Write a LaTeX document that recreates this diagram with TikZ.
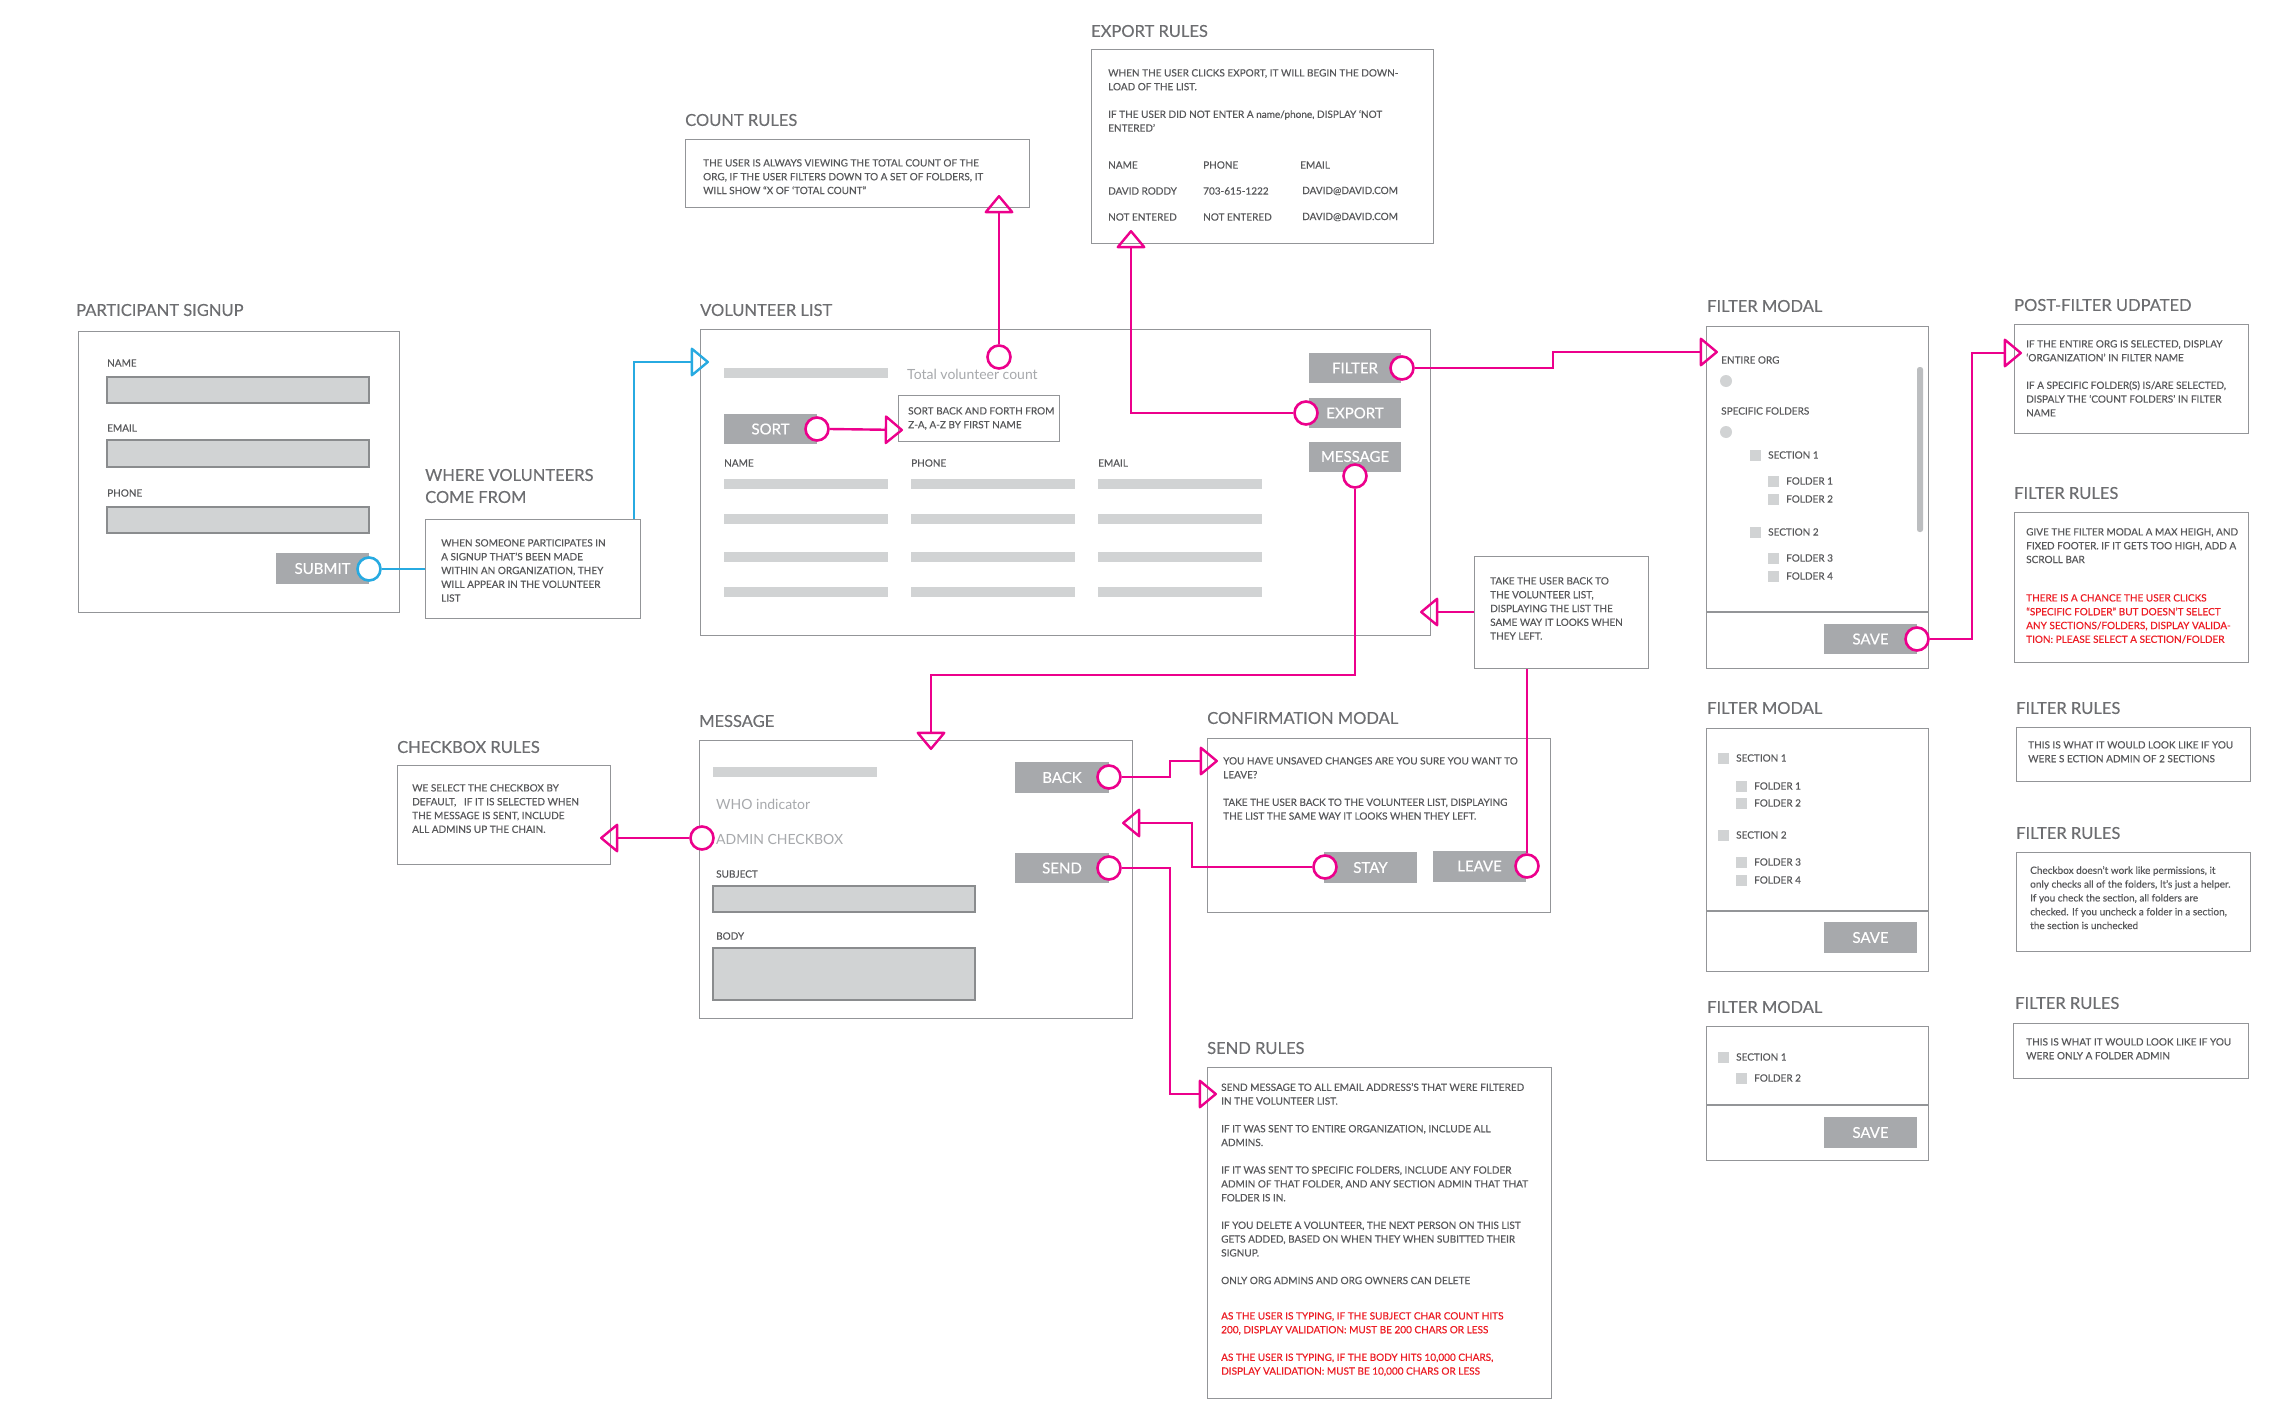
\documentclass[tikz,border=0pt]{standalone}
\usepackage{fontspec}
\setmainfont{Lato}
\newfontfamily\medfont[FakeBold=0.35,Ligatures=TeX]{Lato}
\newfontfamily\headfont[FakeBold=0.25,Ligatures=TeX]{Lato}
\usetikzlibrary{arrows.meta}
\definecolor{pinkc}{HTML}{EC008C}
\definecolor{bluec}{HTML}{27AAE1}
\definecolor{framegray}{HTML}{939598}
\definecolor{btngray}{HTML}{A7A9AC}
\definecolor{fieldfill}{HTML}{D1D3D4}
\definecolor{fieldedge}{HTML}{8A8C8E}
\definecolor{textc}{HTML}{58595B}
\definecolor{headc}{HTML}{6D6E71}
\definecolor{softc}{HTML}{A7A9AC}
\definecolor{redc}{HTML}{ED1C24}
\definecolor{scrollc}{HTML}{BCBEC0}
\tikzset{
  boxf/.style={draw=framegray, line width=1.4pt, fill=white, inner sep=0pt, anchor=north west},
  fieldf/.style={draw=fieldedge, fill=fieldfill, line width=1.2pt},
  barf/.style={fill=fieldfill},
  btnf/.style={fill=btngray, text=white, inner sep=0pt, minimum width=93pt, minimum height=31pt, font=\medfont\fontsize{15}{15}\selectfont},
  headf/.style={text=headc, inner sep=0pt, anchor=west, align=left, font=\headfont\fontsize{16.5}{22}\selectfont},
  txtf/.style={text=textc, inner sep=0pt, anchor=north west, align=left, font=\medfont\fontsize{10}{13.8}\selectfont},
  redf/.style={txtf, text=redc},
  lblf/.style={text=textc, inner sep=0pt, anchor=west, font=\medfont\fontsize{10}{12}\selectfont},
  softf/.style={text=softc, inner sep=0pt, anchor=west, font=\fontsize{14}{16}\selectfont},
  pcirc/.style={circle, draw=pinkc, line width=2.6pt, fill=white, minimum size=23pt, inner sep=0pt},
  bcirc/.style={pcirc, draw=bluec},
  pline/.style={draw=pinkc, line width=2.4pt},
  bline/.style={draw=bluec, line width=2.4pt},
  arr/.style={-{Triangle[open,length=19pt,width=31pt,round]}},
  chk/.style={fill=fieldfill},
}
\begin{document}
\begin{tikzpicture}[x=1pt,y=-1pt]
\useasboundingbox[fill=white] (0,0) rectangle (2294,1426);

% ---------------- PARTICIPANT SIGNUP
\node[headf] at (76,310) {PARTICIPANT SIGNUP};
\node[boxf, minimum width=321pt, minimum height=281pt] (ps) at (78,331) {};
\node[lblf] at (107,363) {NAME};
\draw[fieldf] (107,377) rectangle (369,403);
\node[lblf] at (107,428) {EMAIL};
\draw[fieldf] (107,440) rectangle (369,467);
\node[lblf] at (107,493) {PHONE};
\draw[fieldf] (107,507) rectangle (369,533);
\node[btnf] (submit) at (322.5,568.5) {SUBMIT};
\node[bcirc] (sub) at (369,569) {};

% ---------------- WHERE VOLUNTEERS COME FROM
\node[headf] at (425,486) {WHERE VOLUNTEERS\\COME FROM};
\node[boxf, minimum width=215pt, minimum height=99pt] (where) at (425,519) {};
\node[txtf] at (441,539) {WHEN SOMEONE PARTICIPATES IN\\A SIGNUP THAT'S BEEN MADE\\WITHIN AN ORGANIZATION, THEY\\WILL APPEAR IN THE VOLUNTEER\\LIST};
\coordinate (wtop) at (634,519);

% ---------------- COUNT RULES
\node[headf] at (685,120) {COUNT RULES};
\node[boxf, minimum width=344pt, minimum height=68pt] (count) at (685,139) {};
\node[txtf] at (703,159) {THE USER IS ALWAYS VIEWING THE TOTAL COUNT OF THE\\ORG, IF THE USER FILTERS DOWN TO A SET OF FOLDERS, IT\\WILL SHOW ``X OF `TOTAL COUNT''};

% ---------------- EXPORT RULES
\node[headf] at (1091,31) {EXPORT RULES};
\node[boxf, minimum width=342pt, minimum height=194pt] (export) at (1091,49) {};
\node[txtf] at (1108,69) {WHEN THE USER CLICKS EXPORT, IT WILL BEGIN THE DOWN-\\LOAD OF THE LIST.\\[13.8pt]IF THE USER DID NOT ENTER A name/phone, DISPLAY `NOT\\ENTERED'};
\node[lblf] at (1108,165) {NAME};
\node[lblf] at (1203,165) {PHONE};
\node[lblf] at (1300,165) {EMAIL};
\node[lblf] at (1108,191) {DAVID RODDY};
\node[lblf] at (1203,191) {703-615-1222};
\node[lblf] at (1302,191) {DAVID@DAVID.COM};
\node[lblf] at (1108,217) {NOT ENTERED};
\node[lblf] at (1203,217) {NOT ENTERED};
\node[lblf] at (1302,217) {DAVID@DAVID.COM};

% ---------------- VOLUNTEER LIST
\node[headf] at (700,310) {VOLUNTEER LIST};
\node[boxf, minimum width=730pt, minimum height=306pt] (vlist) at (700,329) {};
\fill[barf] (724,368) rectangle (888,378);
\node[softf] (total) at (907,374) {Total volunteer count};
\node[btnf, minimum height=30pt] (sort) at (770.5,429) {SORT};
\node[boxf, minimum width=161pt, minimum height=46pt] (sortbox) at (898,395) {};
\node[txtf] at (908,407) {SORT BACK AND FORTH FROM\\Z-A, A-Z BY FIRST NAME};
\node[lblf] at (724,463) {NAME};
\node[lblf] at (911,463) {PHONE};
\node[lblf] at (1098,463) {EMAIL};
\foreach \yy in {484,519,557,592}{
  \fill[barf] (724,\yy-5) rectangle (888,\yy+5);
  \fill[barf] (911,\yy-5) rectangle (1075,\yy+5);
  \fill[barf] (1098,\yy-5) rectangle (1262,\yy+5);
}
\node[btnf, minimum width=92pt, minimum height=30pt] (filterbtn) at (1355,368) {FILTER};
\node[btnf, minimum width=92pt, minimum height=30pt] (exportbtn) at (1355,413) {EXPORT};
\node[btnf, minimum width=92pt, minimum height=30pt] (msgbtn) at (1355,456.5) {MESSAGE};

% ---------------- FILTER MODAL 1
\node[headf] at (1707,306) {FILTER MODAL};
\node[boxf, minimum width=222pt, minimum height=342pt] (fm1) at (1706,326) {};
\node[lblf] at (1721,360) {ENTIRE ORG};
\fill[fieldfill] (1726,381) circle (6);
\node[lblf] at (1721,411) {SPECIFIC FOLDERS};
\fill[fieldfill] (1726,432) circle (6);
\fill[chk] (1750,449.5) rectangle (1761,460.5);
\node[lblf] at (1768,455) {SECTION 1};
\fill[chk] (1768,475.5) rectangle (1779,486.5);
\node[lblf] at (1786,481) {FOLDER 1};
\fill[chk] (1768,493.5) rectangle (1779,504.5);
\node[lblf] at (1786,499) {FOLDER 2};
\fill[chk] (1750,526.5) rectangle (1761,537.5);
\node[lblf] at (1768,532) {SECTION 2};
\fill[chk] (1768,552.5) rectangle (1779,563.5);
\node[lblf] at (1786,558) {FOLDER 3};
\fill[chk] (1768,570.5) rectangle (1779,581.5);
\node[lblf] at (1786,576) {FOLDER 4};
\fill[scrollc, rounded corners=2.5pt] (1917,367) rectangle (1923,532);
\draw[draw=framegray, line width=1.2pt] (1706,612) -- (1928,612);
\node[btnf, minimum height=30pt] (save1) at (1870.5,639) {SAVE};

% ---------------- POST-FILTER / FILTER RULES
\node[headf] at (2014,305) {POST-FILTER UDPATED};
\node[boxf, minimum width=234pt, minimum height=109pt] (post) at (2014,324) {};
\node[txtf] at (2026,340) {IF THE ENTIRE ORG IS SELECTED, DISPLAY\\`ORGANIZATION' IN FILTER NAME\\[13.8pt]IF A SPECIFIC FOLDER(S) IS/ARE SELECTED,\\DISPALY THE `COUNT FOLDERS' IN FILTER\\NAME};

\node[headf] at (2014,493) {FILTER RULES};
\node[boxf, minimum width=234pt, minimum height=150pt] (fr1) at (2014,512) {};
\node[txtf] at (2026,528) {GIVE THE FILTER MODAL A MAX HEIGH, AND\\FIXED FOOTER. IF IT GETS TOO HIGH, ADD A\\SCROLL BAR};
\node[redf] at (2026,594) {THERE IS A CHANCE THE USER CLICKS\\``SPECIFIC FOLDER'' BUT DOESN'T SELECT\\ANY SECTIONS/FOLDERS, DISPLAY VALIDA-\\TION: PLEASE SELECT A SECTION/FOLDER};

% ---------------- TAKE BACK NOTE
\node[boxf, minimum width=174pt, minimum height=112pt] (tb) at (1474,556) {};
\node[txtf] at (1490,577) {TAKE THE USER BACK TO\\THE VOLUNTEER LIST,\\DISPLAYING THE LIST THE\\SAME WAY IT LOOKS WHEN\\THEY LEFT.};

% ---------------- CONFIRMATION MODAL
\node[headf] at (1207,718) {CONFIRMATION MODAL};
\node[boxf, minimum width=343pt, minimum height=174pt] (conf) at (1207,738) {};
\node[txtf] at (1223,757) {YOU HAVE UNSAVED CHANGES ARE YOU SURE YOU WANT TO\\LEAVE?\\[13.8pt]TAKE THE USER BACK TO THE VOLUNTEER LIST, DISPLAYING\\THE LIST THE SAME WAY IT LOOKS WHEN THEY LEFT.};
\node[btnf] (stay) at (1370.5,867.5) {STAY};
\node[btnf] (leave) at (1479.5,866) {LEAVE};

% ---------------- MESSAGE
\node[headf] at (699,721) {MESSAGE};
\node[boxf, minimum width=433pt, minimum height=278pt] (msg) at (699,740) {};
\fill[barf] (713,767) rectangle (877,777);
\node[softf] at (716,804) {WHO indicator};
\node[softf] (admin) at (716,839) {ADMIN CHECKBOX};
\node[lblf] at (716,874) {SUBJECT};
\draw[fieldf] (713,886) rectangle (975,912);
\node[lblf] at (716,936) {BODY};
\draw[fieldf] (713,948) rectangle (975,1000);
\node[btnf, minimum width=94pt] (back) at (1062,777.5) {BACK};
\node[btnf, minimum width=94pt, minimum height=30pt] (send) at (1062,868) {SEND};

% ---------------- CHECKBOX RULES
\node[headf] at (397,747) {CHECKBOX RULES};
\node[boxf, minimum width=213pt, minimum height=99pt] (cbr) at (397,765) {};
\node[txtf] at (412,784) {WE SELECT THE CHECKBOX BY\\DEFAULT,\ \ \ IF IT IS SELECTED WHEN\\THE MESSAGE IS SENT, INCLUDE\\ALL ADMINS UP THE CHAIN.};

% ---------------- SEND RULES
\node[headf] at (1207,1048) {SEND RULES};
\node[boxf, minimum width=344pt, minimum height=331pt] (sr) at (1207,1067) {};
\node[txtf] at (1221,1083) {SEND MESSAGE TO ALL EMAIL ADDRESS'S THAT WERE FILTERED\\IN THE VOLUNTEER LIST.\\[13.8pt]IF IT WAS SENT TO ENTIRE ORGANIZATION, INCLUDE ALL\\ADMINS.\\[13.8pt]IF IT WAS SENT TO SPECIFIC FOLDERS, INCLUDE ANY FOLDER\\ADMIN OF THAT FOLDER, AND ANY SECTION ADMIN THAT THAT\\FOLDER IS IN.\\[13.8pt]IF YOU DELETE A VOLUNTEER, THE NEXT PERSON ON THIS LIST\\GETS ADDED, BASED ON WHEN THEY WHEN SUBITTED THEIR\\SIGNUP.\\[13.8pt]ONLY ORG ADMINS AND ORG OWNERS CAN DELETE};
\node[redf] at (1221,1312) {AS THE USER IS TYPING, IF THE SUBJECT CHAR COUNT HITS\\200, DISPLAY VALIDATION: MUST BE 200 CHARS OR LESS\\[13.8pt]AS THE USER IS TYPING, IF THE BODY HITS 10,000 CHARS,\\DISPLAY VALIDATION: MUST BE 10,000 CHARS OR LESS};

% ---------------- FILTER MODAL 2
\node[headf] at (1707,708) {FILTER MODAL};
\node[boxf, minimum width=222pt, minimum height=243pt] (fm2) at (1706,728) {};
\fill[chk] (1718,752.5) rectangle (1729,763.5);
\node[lblf] at (1736,758) {SECTION 1};
\fill[chk] (1736,780.5) rectangle (1747,791.5);
\node[lblf] at (1754,786) {FOLDER 1};
\fill[chk] (1736,797.5) rectangle (1747,808.5);
\node[lblf] at (1754,803) {FOLDER 2};
\fill[chk] (1718,829.5) rectangle (1729,840.5);
\node[lblf] at (1736,835) {SECTION 2};
\fill[chk] (1736,856.5) rectangle (1747,867.5);
\node[lblf] at (1754,862) {FOLDER 3};
\fill[chk] (1736,874.5) rectangle (1747,885.5);
\node[lblf] at (1754,880) {FOLDER 4};
\draw[draw=framegray, line width=1.2pt] (1706,911) -- (1928,911);
\node[btnf] (save2) at (1870.5,937.5) {SAVE};

% ---------------- FILTER MODAL 3
\node[headf] at (1707,1007) {FILTER MODAL};
\node[boxf, minimum width=222pt, minimum height=134pt] (fm3) at (1706,1026) {};
\fill[chk] (1718,1051.5) rectangle (1729,1062.5);
\node[lblf] at (1736,1057) {SECTION 1};
\fill[chk] (1736,1072.5) rectangle (1747,1083.5);
\node[lblf] at (1754,1078) {FOLDER 2};
\draw[draw=framegray, line width=1.2pt] (1706,1105) -- (1928,1105);
\node[btnf] (save3) at (1870.5,1132.5) {SAVE};

% ---------------- FILTER RULES 2-4
\node[headf] at (2016,708) {FILTER RULES};
\node[boxf, minimum width=234pt, minimum height=54pt] (fr2) at (2016,727) {};
\node[txtf] at (2028,741) {THIS IS WHAT IT WOULD LOOK LIKE IF YOU\\WERE S ECTION ADMIN OF 2 SECTIONS};
\node[headf] at (2016,833) {FILTER RULES};
\node[boxf, minimum width=234pt, minimum height=99pt] (fr3) at (2016,852) {};
\node[txtf] at (2030,866) {Checkbox doesn't work like permissions, it\\only checks all of the folders, It's just a helper.\\If you check the section, all folders are\\checked. If you uncheck a folder in a section,\\the section is unchecked};
\node[headf] at (2015,1003) {FILTER RULES};
\node[boxf, minimum width=235pt, minimum height=55pt] (fr4) at (2013,1023) {};
\node[txtf] at (2026,1038) {THIS IS WHAT IT WOULD LOOK LIKE IF YOU\\WERE ONLY A FOLDER ADMIN};

% ---------------- connector end points
\coordinate (tipB) at (709,362);
\coordinate (tipCount) at (999,195);
\coordinate (tipExp) at (1131,230);
\coordinate (tipSort) at (903,430);
\coordinate (jF) at (1553,368);
\coordinate (tipF) at (1718,352);
\coordinate (jS) at (1972,639);
\coordinate (tipP) at (2022,353);
\coordinate (jM) at (931,675);
\coordinate (tipM) at (931,750);
\coordinate (tipTB) at (1420,612);
\coordinate (jB) at (1170,777);
\coordinate (tipC) at (1218,761);
\coordinate (jT) at (1192,867);
\coordinate (tipSt) at (1122,823);
\coordinate (jD) at (1170,868);
\coordinate (tipSR) at (1217,1094);
\coordinate (tipA) at (600,838);

% ---------------- circles
\node[pcirc] (cc) at (999,357) {};
\node[pcirc] (sc) at (817,429) {};
\node[pcirc] (fc) at (1402,368) {};
\node[pcirc] (ec) at (1306,413) {};
\node[pcirc] (mc) at (1355,476) {};
\node[pcirc] (svc) at (1917,639) {};
\node[pcirc] (stc) at (1325,867) {};
\node[pcirc] (lc) at (1527,866) {};
\node[pcirc] (ac) at (702,838) {};
\node[pcirc] (bc) at (1109,777) {};
\node[pcirc] (sdc) at (1109,868) {};

% ---------------- connectors
\draw[bline] (sub.east) -- (sub.east -| where.west);
\draw[bline, arr] (wtop) |- (tipB);
\draw[pline, arr] (cc.north) -- (tipCount);
\draw[pline, arr] (ec.west) -| (tipExp);
\draw[pline, arr] (sc.east) -- (tipSort);
\draw[pline, arr] (fc.east) -- (jF) |- (tipF);
\draw[pline, arr] (svc.east) -- (jS) |- (tipP);
\draw[pline, arr] (mc.south) |- (jM) -- (tipM);
\draw[pline, arr] (tb.west |- tipTB) -- (tipTB);
\draw[pline] (lc.north) -- (lc.north |- tb.south);
\draw[pline, arr] (bc.east) -- (jB) |- (tipC);
\draw[pline, arr] (stc.west) -- (jT) |- (tipSt);
\draw[pline, arr] (sdc.east) -- (jD) |- (tipSR);
\draw[pline, arr] (ac.west) -- (tipA);
\end{tikzpicture}
\end{document}
